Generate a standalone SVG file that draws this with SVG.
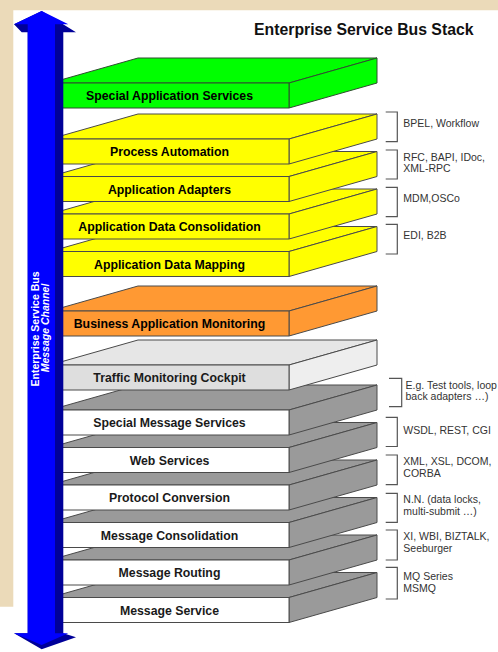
<svg xmlns="http://www.w3.org/2000/svg" width="498" height="652" viewBox="0 0 498 652">
<defs>
<style>
.slab polygon, .slab rect { stroke:#4a4a4a; stroke-width:1; stroke-linejoin:round; }
.green polygon, .green rect { fill:#00FF00; stroke:#2f4f2f; }
.yellow polygon, .yellow rect { fill:#FFFF00; }
.orange polygon, .orange rect { fill:#FF9933; }
.light rect { fill:#DEDEDE; }
.light .top { fill:#E6E6E6; }
.light .side { fill:#EEEEEE; }
.gray rect { fill:#FFFFFF; }
.gray .top, .gray .side { fill:#9A9A9A; }
.lbl { font-family:"Liberation Sans", Arial, sans-serif; font-weight:bold; font-size:12.3px; fill:#000; text-anchor:middle; }
.gray .lbl, .light .lbl { fill:#1a1a1a; }
.note { font-family:"Liberation Sans", Arial, sans-serif; font-size:10.5px; fill:#333; }
.br { fill:none; stroke:#555; stroke-width:1.2; }
.title { font-family:"Liberation Sans", Arial, sans-serif; font-weight:bold; font-size:15.8px; fill:#111; }
.bus { font-family:"Liberation Sans", Arial, sans-serif; font-weight:bold; font-size:10.5px; fill:#FFFFFF; text-anchor:middle; }
</style>
</defs>

<rect x="0" y="0" width="498" height="652" fill="#FFFFFF"/>
<polygon points="0,0 498,0 498,10.3 13.3,10.3 13.3,606.7 0,606.7" fill="#EBDAB9"/>

<text class="title" x="254" y="35">Enterprise Service Bus Stack</text>

<g id="layers">
<g id="message-service" class="slab gray" transform="translate(0,597.5)">
<polygon class="top" points="50,0 138,-25 377,-25 289,0"/>
<polygon class="side" points="289,0 377,-25 377,0 289,25"/>
<rect x="50" y="0" width="239" height="25"/>
<text class="lbl" x="169.5" y="17">Message Service</text>
</g>
<g id="message-routing" class="slab gray" transform="translate(0,560)">
<polygon class="top" points="50,0 138,-25 377,-25 289,0"/>
<polygon class="side" points="289,0 377,-25 377,0 289,25"/>
<rect x="50" y="0" width="239" height="25"/>
<text class="lbl" x="169.5" y="17">Message Routing</text>
</g>
<g id="message-consolidation" class="slab gray" transform="translate(0,522.5)">
<polygon class="top" points="50,0 138,-25 377,-25 289,0"/>
<polygon class="side" points="289,0 377,-25 377,0 289,25"/>
<rect x="50" y="0" width="239" height="25"/>
<text class="lbl" x="169.5" y="17">Message Consolidation</text>
</g>
<g id="protocol-conversion" class="slab gray" transform="translate(0,485)">
<polygon class="top" points="50,0 138,-25 377,-25 289,0"/>
<polygon class="side" points="289,0 377,-25 377,0 289,25"/>
<rect x="50" y="0" width="239" height="25"/>
<text class="lbl" x="169.5" y="17">Protocol Conversion</text>
</g>
<g id="web-services" class="slab gray" transform="translate(0,447.5)">
<polygon class="top" points="50,0 138,-25 377,-25 289,0"/>
<polygon class="side" points="289,0 377,-25 377,0 289,25"/>
<rect x="50" y="0" width="239" height="25"/>
<text class="lbl" x="169.5" y="17">Web Services</text>
</g>
<g id="special-message-services" class="slab gray" transform="translate(0,410)">
<polygon class="top" points="50,0 138,-25 377,-25 289,0"/>
<polygon class="side" points="289,0 377,-25 377,0 289,25"/>
<rect x="50" y="0" width="239" height="25"/>
<text class="lbl" x="169.5" y="17">Special Message Services</text>
</g>
<g id="traffic-monitoring-cockpit" class="slab light" transform="translate(0,365)">
<polygon class="top" points="50,0 138,-25 377,-25 289,0"/>
<polygon class="side" points="289,0 377,-25 377,0 289,25"/>
<rect x="50" y="0" width="239" height="25"/>
<text class="lbl" x="169.5" y="17">Traffic Monitoring Cockpit</text>
</g>
<g id="business-application-monitoring" class="slab orange" transform="translate(0,311)">
<polygon class="top" points="50,0 138,-25 377,-25 289,0"/>
<polygon class="side" points="289,0 377,-25 377,0 289,25"/>
<rect x="50" y="0" width="239" height="25"/>
<text class="lbl" x="169.5" y="17">Business Application Monitoring</text>
</g>
<g id="application-data-mapping" class="slab yellow" transform="translate(0,251.5)">
<polygon class="top" points="50,0 138,-25 377,-25 289,0"/>
<polygon class="side" points="289,0 377,-25 377,0 289,25"/>
<rect x="50" y="0" width="239" height="25"/>
<text class="lbl" x="169.5" y="17">Application Data Mapping</text>
</g>
<g id="application-data-consolidation" class="slab yellow" transform="translate(0,214)">
<polygon class="top" points="50,0 138,-25 377,-25 289,0"/>
<polygon class="side" points="289,0 377,-25 377,0 289,25"/>
<rect x="50" y="0" width="239" height="25"/>
<text class="lbl" x="169.5" y="17">Application Data Consolidation</text>
</g>
<g id="application-adapters" class="slab yellow" transform="translate(0,176.5)">
<polygon class="top" points="50,0 138,-25 377,-25 289,0"/>
<polygon class="side" points="289,0 377,-25 377,0 289,25"/>
<rect x="50" y="0" width="239" height="25"/>
<text class="lbl" x="169.5" y="17">Application Adapters</text>
</g>
<g id="process-automation" class="slab yellow" transform="translate(0,139)">
<polygon class="top" points="50,0 138,-25 377,-25 289,0"/>
<polygon class="side" points="289,0 377,-25 377,0 289,25"/>
<rect x="50" y="0" width="239" height="25"/>
<text class="lbl" x="169.5" y="17">Process Automation</text>
</g>
<g id="special-application-services" class="slab green" transform="translate(0,83)">
<polygon class="top" points="50,0 138,-25 377,-25 289,0"/>
<polygon class="side" points="289,0 377,-25 377,0 289,25"/>
<rect x="50" y="0" width="239" height="25"/>
<text class="lbl" x="169.5" y="17">Special Application Services</text>
</g>
</g>

<g id="bus-arrow">
<polygon points="41.7,11 76,32.3 63.3,32.3 63.3,633.3 76,637.3 41.7,649.3 14,633.3 27.7,633.3 27.7,32.3 21.7,32.3 14,24.3" fill="#000099"/>
<polygon points="41.7,11 68.3,24.3 55,24.3 55,633.3 68.3,633.3 41.7,645 14,633.3 27.7,633.3 27.7,24.3 14,24.3" fill="#0000FF"/>
<text class="bus" transform="translate(38.5,329) rotate(-90)">Enterprise Service Bus</text>
<text class="bus" font-style="italic" transform="translate(49,328) rotate(-90)">Message Channel</text>
</g>

<g id="connectors">
<polyline class="br" points="385.7,112 397.3,112 397.3,141.7 385.7,141.7"/>
<polyline class="br" points="385.7,150 397.3,150 397.3,179 385.7,179"/>
<polyline class="br" points="385.7,187.3 397.3,187.3 397.3,216.7 385.7,216.7"/>
<polyline class="br" points="385.7,224.3 397.3,224.3 397.3,254 385.7,254"/>
<polyline class="br" points="389,378.3 401.7,378.3 401.7,406.7 389,406.7"/>
<polyline class="br" points="385.7,417.3 397.3,417.3 397.3,446.5 385.7,446.5"/>
<polyline class="br" points="385.7,455 397.3,455 397.3,484.7 385.7,484.7"/>
<polyline class="br" points="385.7,493.3 397.3,493.3 397.3,522.3 385.7,522.3"/>
<polyline class="br" points="385.7,530 397.3,530 397.3,560 385.7,560"/>
<polyline class="br" points="385.7,567.3 397.3,567.3 397.3,599 385.7,599"/>
</g>

<g id="notes">
<g id="note-bpel"><text class="note" x="403.3" y="127">BPEL, Workflow</text></g>
<g id="note-rfc"><text class="note" x="403.3" y="160.5">RFC, BAPI, IDoc,</text><text class="note" x="403.3" y="172">XML-RPC</text></g>
<g id="note-mdm"><text class="note" x="403.3" y="202.3">MDM,OSCo</text></g>
<g id="note-edi"><text class="note" x="403.3" y="239.3">EDI, B2B</text></g>
<g id="note-eg"><text class="note" x="405.5" y="388.5">E.g. Test tools, loop</text><text class="note" x="405.5" y="400">back adapters …)</text></g>
<g id="note-wsdl"><text class="note" x="403.3" y="434">WSDL, REST, CGI</text></g>
<g id="note-xml"><text class="note" x="403.3" y="465.3">XML, XSL, DCOM,</text><text class="note" x="403.3" y="477.3">CORBA</text></g>
<g id="note-nn"><text class="note" x="403.3" y="502.5">N.N. (data locks,</text><text class="note" x="403.3" y="514.5">multi-submit …)</text></g>
<g id="note-xi"><text class="note" x="403.3" y="539.5">XI, WBI, BIZTALK,</text><text class="note" x="403.3" y="551.5">Seeburger</text></g>
<g id="note-mq"><text class="note" x="403.3" y="579.5">MQ Series</text><text class="note" x="403.3" y="591.5">MSMQ</text></g>
</g>
</svg>
